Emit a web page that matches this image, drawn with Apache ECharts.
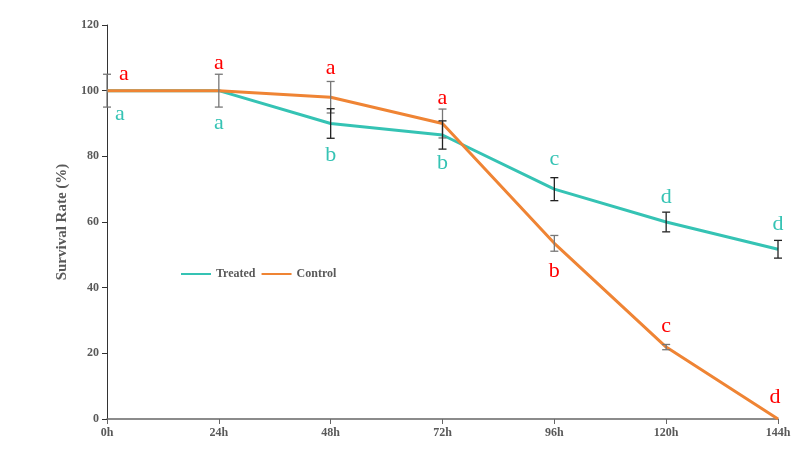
<!DOCTYPE html>
<html>
<head>
<meta charset="utf-8">
<script src="https://cdn.jsdelivr.net/npm/echarts@6/dist/echarts.min.js"></script>
<style>
  html, body { margin: 0; padding: 0; background: #fff; }
  #chart { width: 810px; height: 474px; }
</style>
</head>
<body>
<div id="chart"></div>
<script>
// time points
var hours = ['0h', '24h', '48h', '72h', '96h', '120h', '144h'];

// survival rate (%)
var treated = [100, 100, 90, 86.5, 70, 60, 51.7];
var control = [100, 100, 98, 90, 53.5, 21.9, 0];

// error (+/-), 0 = no bar drawn
var treatedErr = [0, 0, 4.5, 4.3, 3.5, 3, 2.7];
var controlErr = [5, 5, 4.8, 4.4, 2.4, 0.8, 0];

// significance letters
var treatedLetters = ['a', 'a', 'b', 'b', 'c', 'd', 'd'];
var controlLetters = ['a', 'a', 'a', 'a', 'b', 'c', 'd'];

var yTicks = [0, 20, 40, 60, 80, 100, 120];

// letter offsets from the point (px)
var treatedOff = [[13, 24], [0, 33], [0, 32], [0, 28], [0, -30], [0, -25], [0, -25]];
var controlOff = [[17, -16], [0, -27], [0, -29], [0, -25], [0, 28], [0, -21], [-3, -22]];

var serif = '"Liberation Serif", "Times New Roman", serif';
var tealColor = '#35c3b4';
var orangeColor = '#ef8434';

function withLabels(values, letters, offs, color) {
    return values.map(function (v, i) {
        return {
            value: v,
            label: {
                show: true,
                formatter: letters[i],
                position: 'inside',
                offset: offs[i],
                color: color,
                fontFamily: serif,
                fontSize: 22
            }
        };
    });
}

function errData(values, errs) {
    var out = [];
    values.forEach(function (v, i) {
        if (errs[i] > 0) out.push([i, v - errs[i], v + errs[i]]);
    });
    return out;
}

function errRender(color) {
    return function (params, api) {
        var x = api.value(0);
        var lo = api.coord([x, api.value(1)]);
        var hi = api.coord([x, api.value(2)]);
        var w = 4;
        var style = { stroke: color, lineWidth: 1.3 };
        return {
            type: 'group',
            children: [
                { type: 'line', shape: { x1: lo[0], y1: lo[1], x2: hi[0], y2: hi[1] }, style: style },
                { type: 'line', shape: { x1: lo[0] - w, y1: lo[1], x2: lo[0] + w, y2: lo[1] }, style: style },
                { type: 'line', shape: { x1: hi[0] - w, y1: hi[1], x2: hi[0] + w, y2: hi[1] }, style: style }
            ]
        };
    };
}

var option = {
    backgroundColor: '#fff',
    animation: false,
    grid: { left: 107, right: 32, top: 25, bottom: 55, containLabel: false },
    legend: {
        left: 176,
        top: 263,
        itemWidth: 30,
        itemHeight: 10,
        itemGap: 6,
        icon: 'path://M0,4 L30,4 L30,6 L0,6 Z',
        textStyle: { fontFamily: serif, fontWeight: 'bold', fontSize: 12, color: '#595959' },
        data: [
            { name: 'Treated', itemStyle: { color: tealColor } },
            { name: 'Control', itemStyle: { color: orangeColor } }
        ]
    },
    xAxis: {
        type: 'category',
        data: hours,
        boundaryGap: false,
        axisLine: { lineStyle: { color: '#666', width: 1.5 } },
        axisTick: { show: true, alignWithLabel: true, length: 5, lineStyle: { color: '#666' } },
        axisLabel: { fontFamily: serif, fontWeight: 'bold', fontSize: 12, color: '#595959', margin: 8 },
        splitLine: { show: false }
    },
    yAxis: {
        type: 'value',
        min: yTicks[0],
        max: yTicks[yTicks.length - 1],
        interval: 20,
        name: 'Survival Rate (%)',
        nameLocation: 'middle',
        nameGap: 28,
        nameTextStyle: { fontFamily: serif, fontWeight: 'bold', fontSize: 15, color: '#595959' },
        axisLine: { show: true, lineStyle: { color: '#333', width: 1 } },
        axisTick: { show: true, length: 5, lineStyle: { color: '#333' } },
        axisLabel: { fontFamily: serif, fontWeight: 'bold', fontSize: 12, color: '#595959', margin: 8 },
        splitLine: { show: false }
    },
    series: [
        {
            name: 'Treated',
            type: 'line',
            data: withLabels(treated, treatedLetters, treatedOff, tealColor),
            symbol: 'circle',
            symbolSize: 0,
            showSymbol: true,
            lineStyle: { color: tealColor, width: 3 },
            itemStyle: { color: tealColor },
            z: 3
        },
        {
            name: 'Control',
            type: 'line',
            data: withLabels(control, controlLetters, controlOff, '#ff0000'),
            symbol: 'circle',
            symbolSize: 0,
            showSymbol: true,
            lineStyle: { color: orangeColor, width: 3 },
            itemStyle: { color: orangeColor },
            z: 4
        },
        {
            type: 'custom',
            name: 'ctrlErr',
            renderItem: errRender('#777777'),
            data: errData(control, controlErr),
            z: 5
        },
        {
            type: 'custom',
            name: 'treatErr',
            renderItem: errRender('#222222'),
            data: errData(treated, treatedErr),
            z: 5
        }
    ]
};

var chart = echarts.init(document.getElementById('chart'));
chart.setOption(option);
</script>
</body>
</html>
